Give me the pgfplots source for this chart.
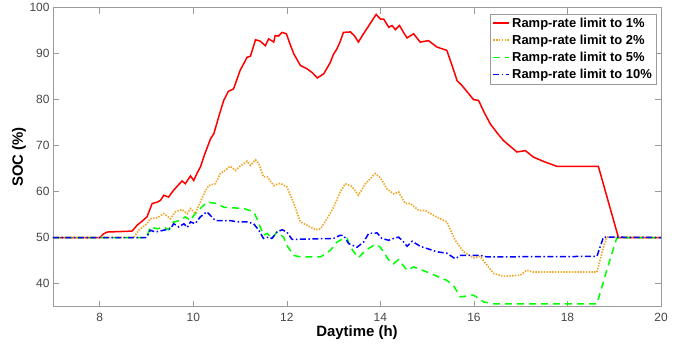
\documentclass[border=0pt]{standalone}
\usepackage{pgfplots}
\pgfplotsset{compat=1.18}
\usepackage{fontspec}
\setmainfont{Liberation Sans}
\definecolor{axgray}{RGB}{155,155,155}
\definecolor{tickgray}{RGB}{70,70,70}
\definecolor{morange}{RGB}{240,165,35}
\begin{document}
\begin{tikzpicture}
\begin{axis}[
  at={(0bp,0bp)}, anchor=south west,
  scale only axis, width=608bp, height=299bp,
  xmin=7, xmax=20, ymin=35, ymax=100,
  xtick={8,10,...,20}, ytick={40,50,...,100},
  tick align=inside, major tick length=6bp,
  axis line style={axgray, line width=0.8bp}, tick style={axgray, line width=0.6bp},
  tick label style={font=\fontsize{12}{14}\selectfont, text=tickgray},
  xticklabel style={yshift=-3bp},
  /pgf/number format/assume math mode=true,
  xlabel={Daytime (h)}, ylabel={SOC (\%)},
  label style={font=\fontsize{15}{18}\selectfont\bfseries},
  xlabel style={at={(axis description cs:0.5,-0.087)}, anchor=center},
  ylabel style={at={(axis description cs:-0.056,0.5)}, anchor=center},
  legend style={at={(axis description cs:1,1)}, anchor=north east, xshift=-5bp, yshift=-6bp,
    draw=axgray, font=\fontsize{13}{15}\selectfont\bfseries, inner xsep=2bp, inner ysep=2bp, row sep=2.2bp,
    cells={anchor=west}},
  legend image code/.code={\draw[#1] (0bp,0bp) -- (16bp,0bp);},
  every axis plot/.append style={line width=1.5bp},
]
\addplot[red, solid] coordinates {
(7,50) (8.0,50) (8.08,50.8) (8.16,51.2) (8.69,51.4) (8.80,52.7) (8.91,53.6) (9.01,54.5)
(9.12,57.4) (9.23,57.7) (9.30,58.1) (9.37,59.2) (9.47,58.8) (9.58,60.3) (9.65,61.1)
(9.76,62.3) (9.83,61.7) (9.94,63.4) (10.01,62.4) (10.08,64.0) (10.15,65.3) (10.25,68.3)
(10.37,71.5) (10.44,72.6) (10.55,76.5) (10.65,79.8) (10.75,81.8) (10.86,82.3) (11.0,86.3)
(11.15,89.2) (11.22,89.4) (11.27,91) (11.33,93.0) (11.43,92.7) (11.54,91.7) (11.61,93.2)
(11.72,92.5) (11.75,93.9) (11.82,93.8) (11.90,94.6) (11.99,94.3) (12.07,92.0) (12.15,89.9)
(12.29,87.4) (12.43,86.7) (12.55,85.8) (12.65,84.7) (12.79,85.6) (12.93,88.1) (13.0,89.9)
(13.07,91.0) (13.14,92.6) (13.21,94.6) (13.36,94.7) (13.45,93.8) (13.53,92.5) (13.62,94)
(13.71,95.4) (13.80,96.8) (13.91,98.5) (14.0,97.5) (14.07,97.5) (14.18,95.7) (14.25,96.1)
(14.32,95.2) (14.41,96.1) (14.50,94.5) (14.57,93.4) (14.71,94.3) (14.85,92.5) (15.03,92.8)
(15.21,91.4) (15.42,90.7) (15.53,87.5) (15.64,84.1) (15.74,83.1) (15.87,81.5) (15.99,80.0)
(16.1,79.8) (16.22,77.2) (16.35,74.7) (16.50,72.7) (16.63,71.1) (16.78,69.8) (16.92,68.6)
(17.1,68.9) (17.27,67.5) (17.5,66.5) (17.77,65.5) (18.66,65.5) (19.09,50) (20,50)
};
\addlegendentry{Ramp-rate limit to 1\%}
\addplot[morange, line width=1.7bp, dash pattern=on 1.4bp off 1.4bp] coordinates {
(7,50) (8.73,50) (8.83,51.6) (9.01,53.0) (9.08,54.1) (9.23,54.3) (9.37,55.2) (9.51,54.1)
(9.62,55.6) (9.76,56.1) (9.87,55.2) (9.94,56.3) (10.04,55.2) (10.15,57.7) (10.25,60)
(10.33,61.3) (10.47,61.7) (10.58,64.0) (10.68,64.6) (10.79,65.5) (10.9,64.6) (11.0,65.5)
(11.15,66.6) (11.22,65.7) (11.33,66.9) (11.40,66.1) (11.50,63.2) (11.58,63.2) (11.72,61.3)
(11.86,61.8) (12.0,61.0) (12.15,57.4) (12.29,53.4) (12.43,52.7) (12.61,51.7) (12.72,51.9)
(12.86,54.1) (13.0,56.6) (13.14,59.9) (13.25,61.7) (13.39,61.1) (13.53,59.2) (13.68,61.7)
(13.89,63.9) (14.0,63.0) (14.14,60.6) (14.28,59.5) (14.39,59.9) (14.53,57.4) (14.64,57.4)
(14.82,55.9) (14.96,55.9) (15.14,54.8) (15.28,54.1) (15.42,53.4) (15.60,49.4) (15.78,46.9)
(15.99,45.6) (16.13,45.9) (16.28,44.0) (16.42,42.2) (16.63,41.6) (16.99,41.8) (17.13,42.9)
(17.27,42.5) (18.63,42.5) (18.77,47.9) (18.84,50.1) (20,50)
};
\addlegendentry{Ramp-rate limit to 2\%}
\addplot[green, dash pattern=on 7bp off 5bp] coordinates {
(7,50) (9.0,50) (9.08,52.3) (9.23,51.9) (9.37,52.3) (9.47,51.7) (9.58,53.4) (9.72,53.7)
(9.83,54.5) (9.94,53.7) (10.01,54.8) (10.15,56.3) (10.29,57.7) (10.51,57.4) (10.65,56.6)
(11.08,56.3) (11.29,55.6) (11.36,54.1) (11.43,52.3) (11.5,50.5) (11.58,50.9) (11.68,49.8)
(11.79,51.2) (11.93,50.1) (12.0,48.3) (12.15,46.1) (12.29,45.8) (12.72,45.8) (12.93,47.2)
(13.07,49.0) (13.21,49.8) (13.29,49.8) (13.36,47.9) (13.53,45.6) (13.68,47.2) (13.89,48.5)
(14.0,47.9) (14.18,45.1) (14.28,44.3) (14.39,45.2) (14.57,42.9) (14.71,43.6) (15.0,42.5)
(15.42,40.7) (15.56,39.6) (15.71,37.1) (15.99,37.5) (16.21,36.0) (16.42,35.6) (18.63,35.6)
(18.84,42.9) (19.05,49.8) (19.1,50) (20,50)
};
\addlegendentry{Ramp-rate limit to 5\%}
\addplot[blue, dash pattern=on 6bp off 2.5bp on 1.5bp off 2.5bp] coordinates {
(7,50) (9.0,50) (9.08,51.6) (9.19,51.2) (9.37,51.6) (9.51,51.9) (9.58,53.0) (9.69,52.3)
(9.80,53.0) (9.87,52.2) (9.94,53.4) (10.04,53.0) (10.15,54.5) (10.29,55.6) (10.47,53.7)
(10.79,53.7) (10.94,53.4) (11.15,53.4) (11.29,53.0) (11.40,51.6) (11.5,49.8) (11.61,50.1)
(11.68,49.8) (11.79,51.2) (11.90,51.7) (12.0,51.2) (12.11,49.6) (13.0,49.8) (13.14,50.5)
(13.21,50.5) (13.32,48.7) (13.50,47.9) (13.64,49.0) (13.75,50.9) (13.93,51.0) (14.03,49.8)
(14.18,49.4) (14.28,49.8) (14.39,50.1) (14.50,49.0) (14.57,48.1) (14.68,49.2) (14.85,48.1)
(15.21,46.9) (15.42,46.6) (15.60,45.4) (15.71,46.1) (16.13,46.1) (16.28,45.8) (18.63,45.9)
(18.77,50.1) (20,50)
};
\addlegendentry{Ramp-rate limit to 10\%}
\end{axis}
\path (-53bp,-42bp) rectangle (642bp,306bp);
\end{tikzpicture}
\end{document}
